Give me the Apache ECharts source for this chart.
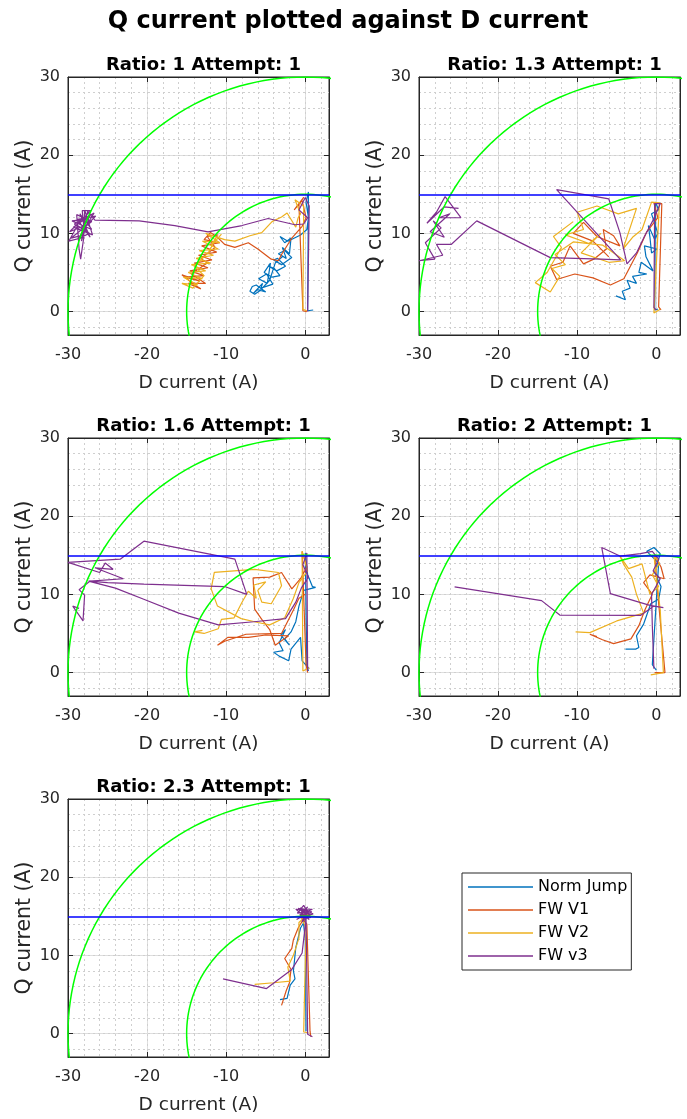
<!DOCTYPE html>
<html>
<head>
<meta charset="utf-8">
<title>Q current plotted against D current</title>
<script src="https://cdn.jsdelivr.net/npm/echarts@6/dist/echarts.min.js"></script>
<style>
    html, body { margin: 0; padding: 0; background: #fff; }
    #chart { width: 687px; height: 1119px; }
</style>
</head>
<body>
<div id="chart"></div>
<script>
    // ---- data: [D current, Q current] in A ----
    const seriesNames = ['Norm Jump', 'FW V1', 'FW V2', 'FW v3']
    const ratios = ['1', '1.3', '1.6', '2', '2.3']
    const circleRadii = [15, 30]
    const limitLevels = [15]
    const xRange = [-30, 3]
    const yRange = [-3, 30]

    // Ratio 1
    const r1Jump = [[1.0,0.2],[0.3,0.1],[0.4,15.3],[0.1,14.0],[0.4,12.0],[0.2,10.5],[-0.6,9.8],[-2.2,9.0],[-3.2,9.6],[-2.6,8.8],[-1.8,9.4],[-2.0,7.4],[-2.9,8.2],[-2.4,6.8],[-3.4,7.4],[-2.6,7.8],[-1.7,6.9],[-3.0,6.0],[-4.0,6.6],[-3.5,6.8],[-2.5,5.8],[-3.6,5.2],[-4.6,5.8],[-3.9,5.5],[-3.2,4.6],[-4.2,4.4],[-5.2,5.0],[-4.4,6.2],[-4.8,3.6],[-5.9,4.2],[-4.9,4.8],[-4.1,3.5],[-5.6,3.0],[-5.4,3.6],[-6.6,2.3],[-6.0,2.8],[-5.0,2.5],[-6.2,3.4],[-6.7,3.2],[-7.0,2.6],[-6.4,2.2],[-5.7,2.7],[-4.5,4.0],[-3.8,6.2],[-2.8,7.1]]
    const r1V1 = [[0.2,0.0],[-0.3,0.1],[-0.8,13.7],[-0.2,14.6],[-1.4,13.0],[-0.4,14.2],[0.1,12.0],[-0.4,10.9],[-1.7,9.4],[-3.0,7.3],[-3.4,6.5],[-4.3,6.7],[-6.0,8.0],[-7.2,8.8],[-8.9,8.2],[-10.2,8.6],[-11.2,9.6],[-12.0,10.1],[-12.8,9.2],[-10.8,8.8],[-13.1,8.4],[-11.2,7.6],[-13.5,7.2],[-11.8,6.6],[-14.0,6.2],[-12.3,5.6],[-14.6,5.2],[-12.8,4.6],[-15.2,4.4],[-13.3,3.9],[-15.6,4.7],[-14.0,3.4],[-13.2,2.9],[-14.8,3.6],[-12.6,3.6],[-14.4,4.8],[-12.4,6.2],[-13.2,6.8],[-11.4,8.2],[-12.4,9.6],[-11.0,9.8]]
    const r1V2 = [[0.2,0.1],[-0.3,0.3],[-0.2,13.5],[-1.3,14.3],[-0.6,12.5],[-0.9,12.0],[-1.2,10.8],[-2.3,12.6],[-3.0,12.1],[-4.2,11.5],[-5.5,10.1],[-7.0,9.7],[-8.9,9.0],[-10.2,9.2],[-12.6,10.0],[-10.8,8.8],[-13.0,9.0],[-11.0,8.0],[-13.4,7.8],[-11.6,7.2],[-13.8,6.8],[-12.0,6.2],[-14.4,6.0],[-12.6,5.2],[-14.8,5.0],[-13.0,4.2],[-15.4,4.4],[-13.6,3.4],[-15.6,3.6],[-14.2,3.0],[-12.8,4.6],[-14.0,5.8],[-12.2,7.6],[-11.2,9.6],[-11.9,8.4],[-10.6,9.9]]
    const r1V3 = [[0.3,0.0],[0.5,13.5],[0.0,14.6],[-0.8,13.0],[0.3,12.0],[-0.2,11.2],[-1.3,11.1],[-4.7,11.9],[-8.0,11.0],[-12.3,10.2],[-16.5,11.0],[-21.0,11.6],[-26.6,11.7],[-27.5,12.8],[-28.2,10.5],[-26.5,12.2],[-28.8,11.8],[-27.2,9.5],[-28.5,12.5],[-27.0,10.5],[-29.5,11.6],[-27.8,11.8],[-28.3,9.0],[-27.3,12.2],[-29.3,10.8],[-26.9,9.8],[-27.9,13.0],[-28.0,9.8],[-29.6,9.4],[-27.0,11.5],[-28.9,12.4],[-28.6,8.0],[-28.4,6.7],[-28.0,9.5],[-29.9,9.0],[-28.8,11.0],[-27.3,10.0],[-28.7,9.3],[-26.7,12.6],[-29.2,11.2],[-27.6,10.2],[-28.0,10.8],[-28.2,12.9],[-27.1,12.9],[-29.8,10.2],[-27.4,11.2]]

    // Ratio 1.3
    const r2Jump = [[0.2,0.3],[-0.2,0.2],[-0.1,14.0],[0.3,13.0],[-0.6,12.5],[0.2,10.0],[-0.2,9.2],[-1.0,11.0],[-0.8,9.5],[-0.6,7.5],[0.1,8.0],[-1.5,8.4],[-1.3,7.0],[-0.4,5.2],[-1.9,6.3],[-2.2,5.0],[-1.2,4.8],[-3.0,4.5],[-2.5,3.6],[-3.7,4.0],[-3.3,3.0],[-4.3,2.6],[-3.9,1.5],[-5.1,2.0]]
    const r2V1 = [[0.6,0.2],[0.3,0.6],[0.7,13.8],[-0.3,13.9],[0.2,12.0],[-1.2,10.2],[-2.4,7.5],[-4.1,4.2],[-5.8,3.4],[-8.0,4.3],[-10.3,4.8],[-12.6,4.1],[-13.4,5.8],[-11.8,6.3],[-10.9,8.4],[-9.2,6.1],[-7.9,6.7],[-6.3,8.0],[-6.7,10.5],[-5.4,9.7],[-4.6,8.4],[-7.5,9.6],[-9.2,11.4],[-10.5,10.0],[-8.0,9.0],[-6.0,7.0]]
    const r2V2 = [[0.5,0.3],[-0.3,-0.2],[0.4,13.9],[-0.6,14.0],[-1.8,10.5],[-3.0,9.5],[-4.2,8.0],[-2.5,13.2],[-4.8,12.5],[-7.5,13.5],[-10.0,12.7],[-9.2,10.5],[-11.5,9.8],[-8.5,8.7],[-7.0,10.0],[-9.5,7.5],[-6.0,6.3],[-4.0,6.5],[-6.8,8.5],[-10.5,8.9],[-12.8,7.3],[-11.5,6.0],[-13.2,5.5],[-12.2,4.5],[-13.4,2.5],[-15.3,3.7],[-13.8,5.0],[-12.0,8.2],[-13.0,9.6],[-10.5,11.5]]
    const r2V3 = [[0.0,0.2],[-0.3,0.5],[-0.2,13.8],[0.5,13.8],[-0.5,11.5],[-1.5,9.6],[-2.5,7.5],[-3.7,6.1],[-4.6,10.1],[-6.0,14.4],[-12.6,15.6],[-4.5,6.6],[-7.0,6.7],[-13.4,6.9],[-22.7,11.6],[-25.9,8.6],[-27.8,8.6],[-27.0,7.2],[-30.0,6.5],[-28.0,6.7],[-29.2,8.8],[-27.2,10.7],[-28.2,11.6],[-26.8,9.5],[-28.6,10.2],[-26.1,12.5],[-27.5,12.0],[-24.7,12.0],[-26.7,14.7],[-27.8,12.7],[-29.0,11.3],[-26.8,13.4],[-25.0,13.2]]

    // Ratio 1.6
    const r3Jump = [[0.4,0.2],[0.2,0.8],[0.0,15.3],[0.3,12.5],[0.9,11.0],[1.3,10.9],[-0.2,10.5],[-0.8,8.5],[-1.2,6.5],[-1.8,5.2],[-2.6,4.3],[-2.0,3.5],[-3.1,4.8],[-2.5,5.5],[-3.3,3.8],[-2.8,2.8],[-4.0,2.6],[-3.3,2.1],[-2.1,1.5],[-1.8,3.0],[-0.6,4.5],[-0.4,1.5],[0.5,0.5]]
    const r3V1 = [[0.3,0.0],[0.1,1.0],[-0.4,15.5],[0.2,13.5],[-0.6,12.0],[-1.7,10.7],[-3.0,12.8],[-4.5,12.2],[-6.6,12.1],[-6.4,8.1],[-5.5,6.8],[-4.5,5.5],[-3.8,3.5],[-2.1,4.7],[-5.0,4.8],[-7.2,4.5],[-9.8,4.5],[-11.1,3.5],[-10.2,4.0],[-7.5,4.9],[-3.0,5.0],[-1.5,8.0],[-0.8,9.5],[0.0,10.0]]
    const r3V2 = [[0.5,0.6],[-0.3,0.2],[-0.4,15.5],[0.3,13.0],[-0.8,11.5],[-1.5,9.5],[-2.6,7.0],[-4.5,6.1],[-6.0,6.4],[-8.1,6.9],[-11.1,8.5],[-11.9,10.7],[-11.5,12.8],[-9.0,13.0],[-6.4,13.2],[-3.4,12.8],[-3.0,11.1],[-4.3,8.8],[-5.5,9.0],[-6.0,10.5],[-5.0,11.6],[-6.5,11.2],[-6.2,9.5],[-7.2,10.4],[-8.0,9.0],[-9.0,7.0],[-10.6,6.8],[-11.0,5.6],[-12.8,5.0],[-14.0,5.2],[-13.0,5.4]]
    const r3V3 = [[0.3,0.2],[0.2,15.3],[-0.3,13.8],[0.4,12.2],[-0.5,10.8],[-1.2,9.0],[-2.5,6.9],[-6.5,6.5],[-11.0,6.1],[-16.0,7.6],[-20.5,9.4],[-24.0,10.8],[-27.4,11.7],[-25.0,11.5],[-20.4,11.3],[-10.2,11.0],[-7.4,10.0],[-8.9,14.5],[-20.4,16.8],[-23.4,14.5],[-30.0,14.1],[-26.0,12.8],[-25.3,14.0],[-24.3,13.2],[-26.6,13.4],[-23.0,12.0],[-27.2,11.7],[-28.6,10.6],[-27.9,9.9],[-28.1,6.6],[-29.4,8.5],[-28.6,8.2]]

    // Ratio 2
    const r4Jump = [[0.0,0.3],[-0.5,1.0],[0.3,14.0],[-1.2,15.5],[-0.3,16.0],[0.5,15.2],[-0.2,12.8],[0.6,11.0],[0.3,9.4],[-0.7,8.8],[-1.6,6.2],[-2.5,4.7],[-2.2,3.2],[-2.6,3.0],[-3.9,3.0]]
    const r4V1 = [[-0.2,0.0],[1.1,0.0],[0.2,10.0],[-0.2,15.0],[0.6,13.5],[1.0,12.0],[-0.8,12.5],[-1.6,11.5],[-0.5,10.0],[-1.4,8.1],[-2.2,6.0],[-3.2,4.3],[-5.4,3.7],[-6.8,4.2],[-8.4,4.9],[-7.5,4.6]]
    const r4V2 = [[-0.7,-0.3],[0.9,0.0],[0.5,8.0],[-0.3,15.0],[0.4,14.0],[-0.5,12.5],[0.3,11.0],[-0.8,10.0],[-1.8,13.9],[-3.5,13.3],[-4.6,14.9],[-4.1,13.8],[-3.1,12.2],[-2.5,10.0],[-1.6,7.6],[-5.0,6.6],[-8.4,5.1],[-10.2,5.2]]
    const r4V3 = [[-25.5,10.95],[-14.5,9.2],[-12.2,7.35],[-2.0,7.3],[-0.3,8.5],[0.9,8.3],[-0.8,8.6],[-5.8,10.1],[-6.9,16.0],[-4.6,14.9],[-2.0,15.2],[-0.5,15.5],[0.3,14.5],[-0.4,13.0],[0.5,12.0],[-0.6,10.0],[-0.5,6.0],[-0.3,0.5]]

    // Ratio 2.3
    const r5Jump = [[0.1,0.3],[0.0,12.0],[-0.3,14.8],[0.4,15.2],[-0.6,13.5],[-1.2,11.0],[-1.5,8.0],[-1.3,7.0],[-1.9,6.2],[-2.3,4.5],[-3.2,4.35]]
    const r5V1 = [[0.7,-0.4],[0.6,0.3],[0.2,14.0],[-0.6,15.0],[0.3,15.5],[-0.9,13.5],[-1.5,12.0],[-1.7,10.9],[-2.6,9.6],[-1.8,8.2],[-2.0,6.5],[-2.4,5.5],[-3.0,3.6]]
    const r5V2 = [[0.4,0.1],[-0.2,0.2],[0.1,13.5],[-0.5,14.8],[0.4,15.3],[-0.8,14.2],[-0.8,12.2],[-1.5,10.0],[-2.2,8.5],[-1.9,6.7],[-4.0,6.5],[-6.4,6.3]]
    const r5V3 = [[0.9,-0.4],[0.3,-0.1],[0.1,14.5],[-0.5,15.5],[0.3,16.2],[-0.8,14.8],[0.6,15.0],[-0.2,16.4],[-1.0,15.4],[0.8,15.6],[-0.4,14.3],[0.2,15.8],[-1.2,15.9],[0.5,14.6],[-0.6,16.1],[1.0,15.3],[-0.3,14.9],[0.4,15.7],[-0.9,16.0],[0.7,14.8],[-0.1,15.2],[-1.1,14.6],[0.3,15.4],[-0.5,15.9],[0.9,15.9],[-0.7,15.2],[0.1,14.7],[-0.4,10.3],[-1.7,8.2],[-4.9,5.75],[-10.4,7.0]]

    const traces = [
        [r1Jump, r1V1, r1V2, r1V3],
        [r2Jump, r2V1, r2V2, r2V3],
        [r3Jump, r3V1, r3V2, r3V3],
        [r4Jump, r4V1, r4V2, r4V3],
        [r5Jump, r5V1, r5V2, r5V3]
    ]

    // ---- layout / style ----
    const colors = ['#0072BD', '#D95319', '#EDB120', '#7E2F8E']
    const font = 'DejaVu Sans'
    const axisColor = '#262626'
    const boxes = [[68, 77], [419, 77], [68, 438], [419, 438], [68, 799]]
    const boxW = 261
    const boxH = 258

    function circlePoints(r) {
        const pts = []
        for (let a = 0; a <= 360; a += 2) {
            const t = a * Math.PI / 180
            pts.push([r * Math.cos(t), r * Math.sin(t)])
        }
        return pts
    }

    const grids = []
    const xAxes = []
    const yAxes = []
    const titles = [{
        text: 'Q current plotted against D current',
        left: 343, top: 5, textAlign: 'center',
        textStyle: { fontSize: 24, fontWeight: 'bold', color: '#000', fontFamily: font }
    }]
    const series = []

    boxes.forEach(function (b, i) {
        grids.push({
            left: b[0], top: b[1], width: boxW, height: boxH,
            show: true, backgroundColor: '#fff',
            borderColor: axisColor, borderWidth: 1,
            containLabel: false, outerBoundsMode: 'none'
        })
        titles.push({
            text: 'Ratio: ' + ratios[i] + ' Attempt: 1',
            left: b[0] + boxW / 2, top: b[1] - 26, textAlign: 'center',
            textStyle: { fontSize: 18, fontWeight: 'bold', color: '#000', fontFamily: font }
        })

        // main x axis (labels, major grid)
        xAxes.push({
            gridIndex: i, type: 'value', position: 'bottom',
            min: xRange[0], max: xRange[1], interval: 10,
            name: 'D current (A)', nameLocation: 'middle', nameGap: 39, nameMoveOverlap: false,
            nameTextStyle: { fontSize: 18.5, color: axisColor, fontFamily: font },
            axisLine: { show: true, onZero: false, lineStyle: { color: axisColor } },
            axisTick: { show: true, inside: true, length: 5, lineStyle: { color: axisColor } },
            axisLabel: { fontSize: 16, color: axisColor, fontFamily: font, margin: 12, showMaxLabel: false, showMinLabel: true },
            splitLine: { show: true, lineStyle: { color: '#dedede', width: 1 } }
        })
        // minor x grid
        xAxes.push({
            gridIndex: i, type: 'value', position: 'bottom',
            min: xRange[0], max: xRange[1], interval: 2,
            axisLine: { show: false, onZero: false }, axisTick: { show: false }, axisLabel: { show: false },
            splitLine: { show: true, lineStyle: { color: '#cfcfcf', width: 1, type: [2, 3] } }
        })
        // top ticks
        xAxes.push({
            gridIndex: i, type: 'value', position: 'top',
            min: xRange[0], max: xRange[1], interval: 10,
            axisLine: { show: true, onZero: false, lineStyle: { color: axisColor } },
            axisTick: { show: true, inside: true, length: 5, lineStyle: { color: axisColor } },
            axisLabel: { show: false }, splitLine: { show: false }
        })

        // main y axis: auto interval so the ticks land on 0,10,20,30
        yAxes.push({
            gridIndex: i, type: 'value', position: 'left',
            min: yRange[0], max: yRange[1], splitNumber: 3,
            name: 'Q current (A)', nameLocation: 'middle', nameGap: 33, nameMoveOverlap: false,
            nameTextStyle: { fontSize: 20.5, color: axisColor, fontFamily: font, padding: [0, 0, 0, 0] },
            axisLine: { show: true, onZero: false, lineStyle: { color: axisColor } },
            axisTick: { show: true, inside: true, length: 5, lineStyle: { color: axisColor } },
            axisLabel: { fontSize: 16, color: axisColor, fontFamily: font, margin: 8, showMinLabel: false, showMaxLabel: true },
            splitLine: { show: true, lineStyle: { color: '#dedede', width: 1 } }
        })
        // minor y grid
        yAxes.push({
            gridIndex: i, type: 'value', position: 'left',
            min: yRange[0], max: yRange[1], splitNumber: 16,
            axisLine: { show: false, onZero: false }, axisTick: { show: false }, axisLabel: { show: false },
            splitLine: { show: true, lineStyle: { color: '#cfcfcf', width: 1, type: [2, 3] } }
        })
        // right ticks
        yAxes.push({
            gridIndex: i, type: 'value', position: 'right',
            min: yRange[0], max: yRange[1], splitNumber: 3,
            axisLine: { show: true, onZero: false, lineStyle: { color: axisColor } },
            axisTick: { show: true, inside: true, length: 5, lineStyle: { color: axisColor } },
            axisLabel: { show: false }, splitLine: { show: false }
        })

        traces[i].forEach(function (d, k) {
            series.push({
                name: seriesNames[k], type: 'line',
                xAxisIndex: 3 * i, yAxisIndex: 3 * i,
                data: d, symbol: 'none', clip: true,
                color: colors[k],
                lineStyle: { color: colors[k], width: 1.2 }
            })
        })

        circleRadii.forEach(function (r, k) {
            const s = {
                name: 'circle' + r, type: 'line',
                xAxisIndex: 3 * i, yAxisIndex: 3 * i,
                data: circlePoints(r), symbol: 'none', clip: true, silent: true,
                lineStyle: { color: '#00ff00', width: 1.5 }
            }
            if (k === circleRadii.length - 1) {
                s.markLine = {
                    silent: true, symbol: ['none', 'none'], label: { show: false },
                    lineStyle: { color: '#0000ff', width: 1.5, type: 'solid' },
                    data: limitLevels.map(function (v) { return { yAxis: v } })
                }
            }
            series.push(s)
        })
    })

    const chart = echarts.init(document.getElementById('chart'))
    chart.setOption({
        animation: false,
        backgroundColor: '#fff',
        textStyle: { fontFamily: font },
        title: titles,
        grid: grids,
        xAxis: xAxes,
        yAxis: yAxes,
        legend: {
            data: seriesNames,
            left: 462, top: 873,
            orient: 'vertical',
            backgroundColor: '#fff',
            borderColor: axisColor, borderWidth: 1, borderRadius: 0,
            padding: [6, 4, 6, 6],
            icon: 'rect',
            itemWidth: 65, itemHeight: 1.5, itemGap: 7,
            selectedMode: false,
            textStyle: { fontSize: 16, color: '#000', fontFamily: font }
        },
        series: series
    })
</script>
</body>
</html>
